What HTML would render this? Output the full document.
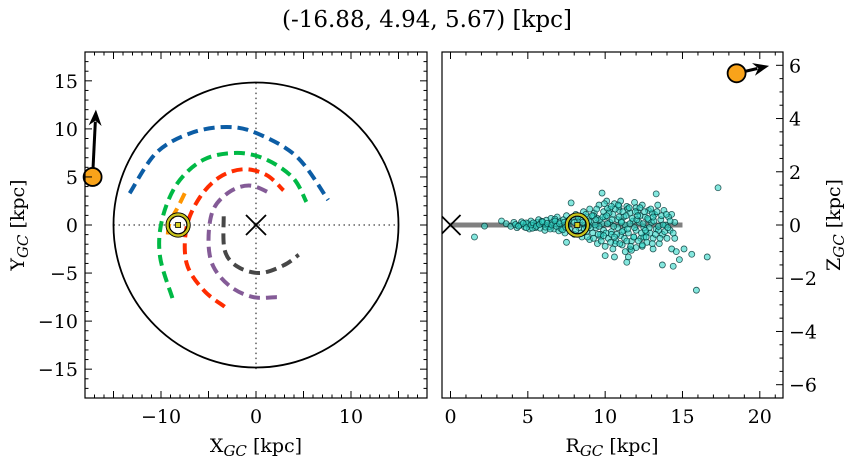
<!DOCTYPE html>
<html><head><meta charset="utf-8"><style>
html,body{margin:0;padding:0;background:#fff;}
svg{display:block;font-family:"DejaVu Serif","Liberation Serif",serif;}
</style></head><body>
<svg id="c" width="854" height="464" viewBox="0 0 854 464" xmlns="http://www.w3.org/2000/svg">
<text x="427" y="27" font-size="23" text-anchor="middle" fill="#000">(-16.88, 4.94, 5.67) [kpc]</text>
</svg>
<script>
// ---- data ----
const objXY = [-17.2, 5.0];
const objArrowXY = [0.35, 7.0];
const sunXY = [-8.2, 0];
const objRZ = [18.5, 5.7];
const objArrowRZ = [2.1, 0.28];
const sunRZ = [8.2, 0];
const diskRadius = 15;
const trackNames = ['blue','green','red','purple','gray','orange'];
const trackColors = ['#0c5da5','#00b945','#ff2c00','#845b97','#474747','#ff9500'];
const trackBlueX = [-13.3,-10.5,-6.9,-3.1,0.07,4.3,7.6];
const trackBlueY = [3.3,7.5,9.55,10.2,9.55,7.1,2.6];
const trackGreenX = [-8.8,-10.1,-9.9,-8.3,-5.5,-2.0,1.1,3.9,5.3];
const trackGreenY = [-7.6,-3.3,0.5,4.3,6.8,7.5,6.8,4.9,2.4];
const trackRedX = [-3.3,-5.5,-7.3,-7.3,-5.9,-3.8,-1.3,1.1,2.9];
const trackRedY = [-8.5,-6.8,-4.0,-0.2,2.9,5.0,5.8,5.2,3.6];
const trackPurpleX = [2.2,-0.3,-2.7,-4.5,-5.0,-4.5,-2.7,-0.6,1.5];
const trackPurpleY = [-7.5,-7.5,-6.4,-4.3,-1.6,1.6,3.5,4.1,3.3];
const trackGrayX = [-3.4,-3.3,-2.0,0.4,2.9,4.5];
const trackGrayY = [0.9,-2.6,-4.3,-5.0,-4.2,-3.1];
const trackOrangeX = [-7.5,-8.2,-9.1,-9.3];
const trackOrangeY = [3.3,1.9,0.2,-1.2];
const starR = [1.55,2.2,3.3,7.5,7.8,9.8,10.0,10.6,11.5,11.4,13.3,13.7,14.4,14.5,14.8,15.1,15.6,16.6,15.9,17.3,12.4,13.1,14.2,14.3,11.6,
3.6,3.9,4.1,4.3,4.5,4.6,4.8,5.0,5.1,5.2,5.4,5.5,5.6,5.7,5.8,6.0,6.1,6.2,6.3,6.4,6.5,6.6,6.7,6.8,6.9,7.0,7.1,7.2,7.3,7.4,7.5,7.6,7.7,7.8,
8.0,8.1,8.3,8.4,8.5,8.6,8.7,8.8,8.9,9.0,9.0,9.1,9.2,9.3,9.4,9.5,9.5,9.6,9.7,9.8,9.9,9.9,
10.0,10.0,10.1,10.2,10.3,10.3,10.4,10.5,10.5,10.6,10.7,10.8,10.8,10.9,11.0,11.0,11.1,11.2,11.3,11.3,11.4,11.5,11.6,11.7,11.8,11.9,
12.0,12.0,12.1,12.2,12.3,12.4,12.5,12.6,12.7,12.8,12.9,13.0,13.1,13.2,13.3,13.4,13.5,13.6,13.7,13.8,13.9,14.0,14.1,14.3,14.5,14.6,
4.9,5.3,5.9,6.35,6.75,7.15,7.55,8.2,8.8,9.25,9.7,10.15,10.65,11.05,11.45,11.85,12.25,12.65,13.05,13.45,9.6,10.4,11.2,12.0,12.8,10.9,11.7,12.5,
4.2,4.4,4.7,4.9,5.2,5.35,5.55,5.75,5.95,6.15,6.25,6.45,6.55,6.75,6.85,7.05,7.25,7.35,7.45,7.65,
8.0,8.1,8.25,8.45,8.55,8.65,8.75,8.85,8.95,9.05,9.15,9.25,9.35,9.45,9.55,9.65,9.75,9.85,9.95,10.05,10.15,10.25,10.35,10.45,10.55,10.65,10.75,10.85,10.95,11.05,
11.15,11.25,11.35,11.45,11.55,11.65,11.75,11.85,11.95,12.05,12.15,12.25,12.35,12.45,12.55,12.65,12.75,12.85,12.95,13.05,13.15,13.25,13.35,13.45,13.55,13.65,13.75,13.85,13.95,14.05,
14.2,14.4,10.1,10.6,11.1,11.6,12.1,12.6,13.1,9.4,8.9,9.9,10.4,10.9,11.4,11.9,12.4];
const starZ = [-0.45,-0.04,0.15,-0.65,0.83,1.2,-1.15,-1.2,-1.2,-1.4,1.17,-1.5,-1.55,-0.5,-1.3,-0.9,-1.1,-1.2,-2.45,1.4,-0.8,-0.9,-0.2,0.4,-0.9,
0.05,-0.05,0.1,-0.1,0.0,0.12,-0.08,0.05,-0.15,0.15,0.0,-0.1,0.1,0.2,-0.12,0.05,-0.2,0.18,0.0,-0.08,0.25,0.1,-0.15,0.05,0.3,-0.22,0.12,-0.05,0.2,-0.3,0.35,0.0,-0.15,0.25,
-0.35,0.4,-0.1,0.2,-0.45,0.5,0.0,-0.25,0.3,-0.55,0.6,0.1,-0.3,0.45,-0.1,0.25,-0.7,0.75,-0.45,0.05,0.5,-0.2,
0.3,-0.8,0.9,-0.5,0.1,0.6,-0.25,0.4,-0.9,0.8,-0.6,0.2,-0.1,0.55,-0.4,0.9,-0.75,0.3,0.0,-1.0,0.7,-0.3,0.45,-0.6,0.15,0.85,
-0.2,-0.85,0.5,0.1,-0.5,0.75,-0.1,0.3,-0.65,0.55,-0.3,0.1,-0.5,0.4,-0.15,0.75,-0.7,0.2,-0.35,0.55,0.0,-0.5,0.3,-0.9,0.1,-1.0,
0.08,-0.12,0.14,-0.06,0.22,-0.14,0.08,0.15,-0.1,0.35,-0.35,0.62,-0.7,0.15,0.6,-0.45,0.35,-0.3,0.45,-0.2,-0.05,-0.35,-0.2,0.65,0.2,0.7,-0.95,-0.45,
0.02,-0.04,0.06,-0.1,0.0,0.08,-0.05,0.02,0.12,-0.08,0.06,-0.15,0.0,0.15,-0.05,0.05,-0.18,0.1,-0.08,0.18,
0.1,-0.2,0.3,-0.3,0.1,-0.15,0.4,-0.45,0.15,-0.1,0.35,-0.5,0.0,0.6,-0.35,0.2,-0.6,0.3,0.8,-0.3,0.05,0.45,-0.65,0.2,-0.05,0.6,-0.35,0.75,-0.7,0.1,
0.5,-0.5,0.35,-0.15,0.65,-0.8,0.25,-0.45,0.5,0.2,-0.6,0.65,-0.3,0.05,0.5,-0.45,0.25,-0.1,0.6,-0.7,0.15,-0.35,0.5,-0.05,-0.5,0.35,0.0,-0.25,0.4,-0.1,
0.15,-0.3,0.35,-0.45,-0.25,0.05,0.35,-0.2,0.3,0.2,-0.05,-0.4,0.7,0.3,-0.6,-0.1,-0.75];
const leftXTickLabels = ['−10','0','10'];
const leftXTickVals = [-10,0,10];
const leftYTickVals = [-15,-10,-5,0,5,10,15];
const leftYTickLabels = ['−15','−10','−5','0','5','10','15'];
const rightXTickVals = [0,5,10,15,20];
const rightXTickLabels = ['0','5','10','15','20'];
const rightZTickVals = [-6,-4,-2,0,2,4,6];
const rightZTickLabels = ['−6','−4','−2','0','2','4','6'];

// ---- helpers ----
const NS='http://www.w3.org/2000/svg';
const svg=document.getElementById('c');
function mk(tag,attrs,parent){const e=document.createElementNS(NS,tag);for(const k in attrs)e.setAttribute(k,attrs[k]);(parent||svg).appendChild(e);return e;}
const L={x0:85,x1:427,y0:52,y1:398,xmin:-18,xmax:18,ymin:-18,ymax:18};
const lx=v=>L.x0+(v-L.xmin)/(L.xmax-L.xmin)*(L.x1-L.x0);
const ly=v=>L.y1-(v-L.ymin)/(L.ymax-L.ymin)*(L.y1-L.y0);
const R={x0:442,x1:783,y0:52,y1:398,xmin:-0.55,xmax:21.5,ymin:-6.5,ymax:6.5};
const rx=v=>R.x0+(v-R.xmin)/(R.xmax-R.xmin)*(R.x1-R.x0);
const ry=v=>R.y1-(v-R.ymin)/(R.ymax-R.ymin)*(R.y1-R.y0);

let defs=mk('defs',{});
let cp=mk('clipPath',{id:'clipL'},defs);mk('rect',{x:L.x0,y:L.y0,width:L.x1-L.x0,height:L.y1-L.y0},cp);
let cp2=mk('clipPath',{id:'clipR'},defs);mk('rect',{x:R.x0,y:R.y0,width:R.x1-R.x0,height:R.y1-R.y0},cp2);

// ===== LEFT PANEL =====
const gL=mk('g',{'clip-path':'url(#clipL)'});


let e;
e=mk('line',{x1:lx(-15),x2:lx(15),y1:ly(0),y2:ly(0),stroke:'#777','stroke-width':1.8,'stroke-dasharray':'1.5 3.5'},gL);


e=mk('line',{x1:lx(0),x2:lx(0),y1:ly(-15),y2:ly(15),stroke:'#777','stroke-width':1.8,'stroke-dasharray':'1.5 3.5'},gL);


e=mk('circle',{cx:lx(0),cy:ly(0),r:lx(diskRadius)-lx(0),fill:'none',stroke:'#000','stroke-width':1.8},gL);


const tracksX=[trackBlueX,trackGreenX,trackRedX,trackPurpleX,trackGrayX,trackOrangeX];
const tracksY=[trackBlueY,trackGreenY,trackRedY,trackPurpleY,trackGrayY,trackOrangeY];
for(let t=0;t<tracksX.length;t++){
  const xs=tracksX[t], ys=tracksY[t];
  let pts=xs.map((x,i)=>[lx(x),ly(ys[i])]);
  let d='M'+pts[0][0]+','+pts[0][1];
  for(let i=0;i<pts.length-1;i++){
    const p0=pts[Math.max(0,i-1)],p1=pts[i],p2=pts[i+1],p3=pts[Math.min(pts.length-1,i+2)];
    const c1=[p1[0]+(p2[0]-p0[0])/6,p1[1]+(p2[1]-p0[1])/6];
    const c2=[p2[0]-(p3[0]-p1[0])/6,p2[1]-(p3[1]-p1[1])/6];
    d+=' C'+c1[0]+','+c1[1]+' '+c2[0]+','+c2[1]+' '+p2[0]+','+p2[1];
  }
  e=mk('path',{d:d,fill:'none',stroke:trackColors[t],'stroke-width':4,'stroke-dasharray':'11 6'},gL);
  
  
}
e=mk('path',{d:`M${lx(0)-10},${ly(0)-10}L${lx(0)+10},${ly(0)+10}M${lx(0)-10},${ly(0)+10}L${lx(0)+10},${ly(0)-10}`,stroke:'#000','stroke-width':1.8},gL);


function sun(g,cx,cy,name){
  const s=mk('g',{},g);
  
  
  mk('circle',{cx:cx,cy:cy,r:12,fill:'none',stroke:'#000','stroke-width':1.2},s);
  mk('circle',{cx:cx,cy:cy,r:10.5,fill:'none',stroke:'#c9c31a','stroke-width':2.4},s);
  mk('circle',{cx:cx,cy:cy,r:8.8,fill:'none',stroke:'#000','stroke-width':1.2},s);
  mk('rect',{x:cx-2.5,y:cy-2.5,width:5,height:5,fill:'#d8d020',stroke:'#000','stroke-width':0.8},s);
}
sun(gL,lx(sunXY[0]),ly(sunXY[1]),'sun-marker-xy');
function arrow(g,x1,y1,x2,y2,name){
  const a=mk('g',{},g);
  
  
  const dx=x2-x1,dy=y2-y1,len=Math.hypot(dx,dy),ux=dx/len,uy=dy/len;
  const hl=16,hw=6.5;
  const bx=x2-ux*hl,by=y2-uy*hl;
  mk('line',{x1:x1,y1:y1,x2:bx+ux*4,y2:by+uy*4,stroke:'#000','stroke-width':3},a);
  mk('polygon',{points:`${x2},${y2} ${bx-uy*hw},${by+ux*hw} ${bx+ux*5},${by+uy*5} ${bx+uy*hw},${by-ux*hw}`,fill:'#000'},a);
}
const oxL=lx(objXY[0]),oyL=ly(objXY[1]);
arrow(svg,oxL,oyL,lx(objXY[0]+objArrowXY[0]),ly(objXY[1]+objArrowXY[1]),'velocity-arrow-xy');
e=mk('circle',{cx:oxL,cy:oyL,r:9,fill:'#f9a31a',stroke:'#000','stroke-width':1.8});



// ===== RIGHT PANEL =====
const gR=mk('g',{'clip-path':'url(#clipR)'});


e=mk('line',{x1:rx(0),x2:rx(diskRadius),y1:ry(0),y2:ry(0),stroke:'#808080','stroke-width':5},gR);


for(let i=0;i<starR.length;i++){
  e=mk('circle',{cx:rx(starR[i]),cy:ry(starZ[i]),r:3,fill:'rgba(50,215,200,0.6)',stroke:'rgba(0,50,50,0.8)','stroke-width':0.8},gR);
  
  
}
e=mk('path',{d:`M${rx(0)-10},${ry(0)-10}L${rx(0)+10},${ry(0)+10}M${rx(0)-10},${ry(0)+10}L${rx(0)+10},${ry(0)-10}`,stroke:'#000','stroke-width':1.8},gR);


sun(gR,rx(sunRZ[0]),ry(sunRZ[1]),'sun-marker-rz');
const oxR=rx(objRZ[0]),oyR=ry(objRZ[1]);
arrow(svg,oxR,oyR,rx(objRZ[0]+objArrowRZ[0]),ry(objRZ[1]+objArrowRZ[1]),'velocity-arrow-rz');
e=mk('circle',{cx:oxR,cy:oyR,r:9,fill:'#f9a31a',stroke:'#000','stroke-width':1.8});



// ===== AXES =====
function frame(P,name){
  e=mk('rect',{x:P.x0,y:P.y0,width:P.x1-P.x0,height:P.y1-P.y0,fill:'none',stroke:'#000','stroke-width':1.2});
  
  
}
frame(L,'xy-axes-frame');frame(R,'rz-axes-frame');
function tick(x1,y1,x2,y2){mk('line',{x1:x1,y1:y1,x2:x2,y2:y2,stroke:'#000','stroke-width':1});}
for(let v=-18;v<=18;v++){
  const maj=(v%5===0), len=maj?7:3.5;
  const X=lx(v),Y=ly(v);
  tick(X,L.y1,X,L.y1-len);tick(X,L.y0,X,L.y0+len);
  tick(L.x0,Y,L.x0+len,Y);tick(L.x1,Y,L.x1-len,Y);
}
const FS=19;
for(let i=0;i<leftXTickVals.length;i++){
  e=mk('text',{x:lx(leftXTickVals[i]),y:L.y1+25,'font-size':FS,'text-anchor':'middle'});e.textContent=leftXTickLabels[i];
  
  
}
for(let i=0;i<leftYTickVals.length;i++){
  e=mk('text',{x:L.x0-7,y:ly(leftYTickVals[i])+7,'font-size':FS,'text-anchor':'end'});e.textContent=leftYTickLabels[i];
  
  
}
for(let v=0;v<=21;v++){
  const maj=(v%5===0), len=maj?7:3.5, X=rx(v);
  tick(X,R.y1,X,R.y1-len);tick(X,R.y0,X,R.y0+len);
}
for(let k=-13;k<=13;k++){
  const v=k/2, maj=(k%4===0), len=maj?7:3.5, Y=ry(v);
  tick(R.x1,Y,R.x1-len,Y);
}
for(let i=0;i<rightXTickVals.length;i++){
  e=mk('text',{x:rx(rightXTickVals[i]),y:R.y1+25,'font-size':FS,'text-anchor':'middle'});e.textContent=rightXTickLabels[i];
  
  
}
for(let i=0;i<rightZTickVals.length;i++){
  e=mk('text',{x:R.x1+6,y:ry(rightZTickVals[i])+7,'font-size':FS,'text-anchor':'start'});e.textContent=rightZTickLabels[i];
  
  
}
function title(x,y,rot,main,name){
  const t=mk('text',{x:x,y:y,'font-size':19,'text-anchor':'middle',transform:rot?`rotate(-90 ${x} ${y})`:''});
  
  
  const a=mk('tspan',{},t);a.textContent=main;
  const b=mk('tspan',{'font-style':'italic','font-size':15,dy:4},t);b.textContent='GC';
  const c=mk('tspan',{dy:-4},t);c.textContent=' [kpc]';
}
title(256,452,false,'X','x-axis-title');
title(612,452,false,'R','r-axis-title');
title(24,225,true,'Y','y-axis-title');
title(840,225,true,'Z','z-axis-title');
</script>
</body></html>
